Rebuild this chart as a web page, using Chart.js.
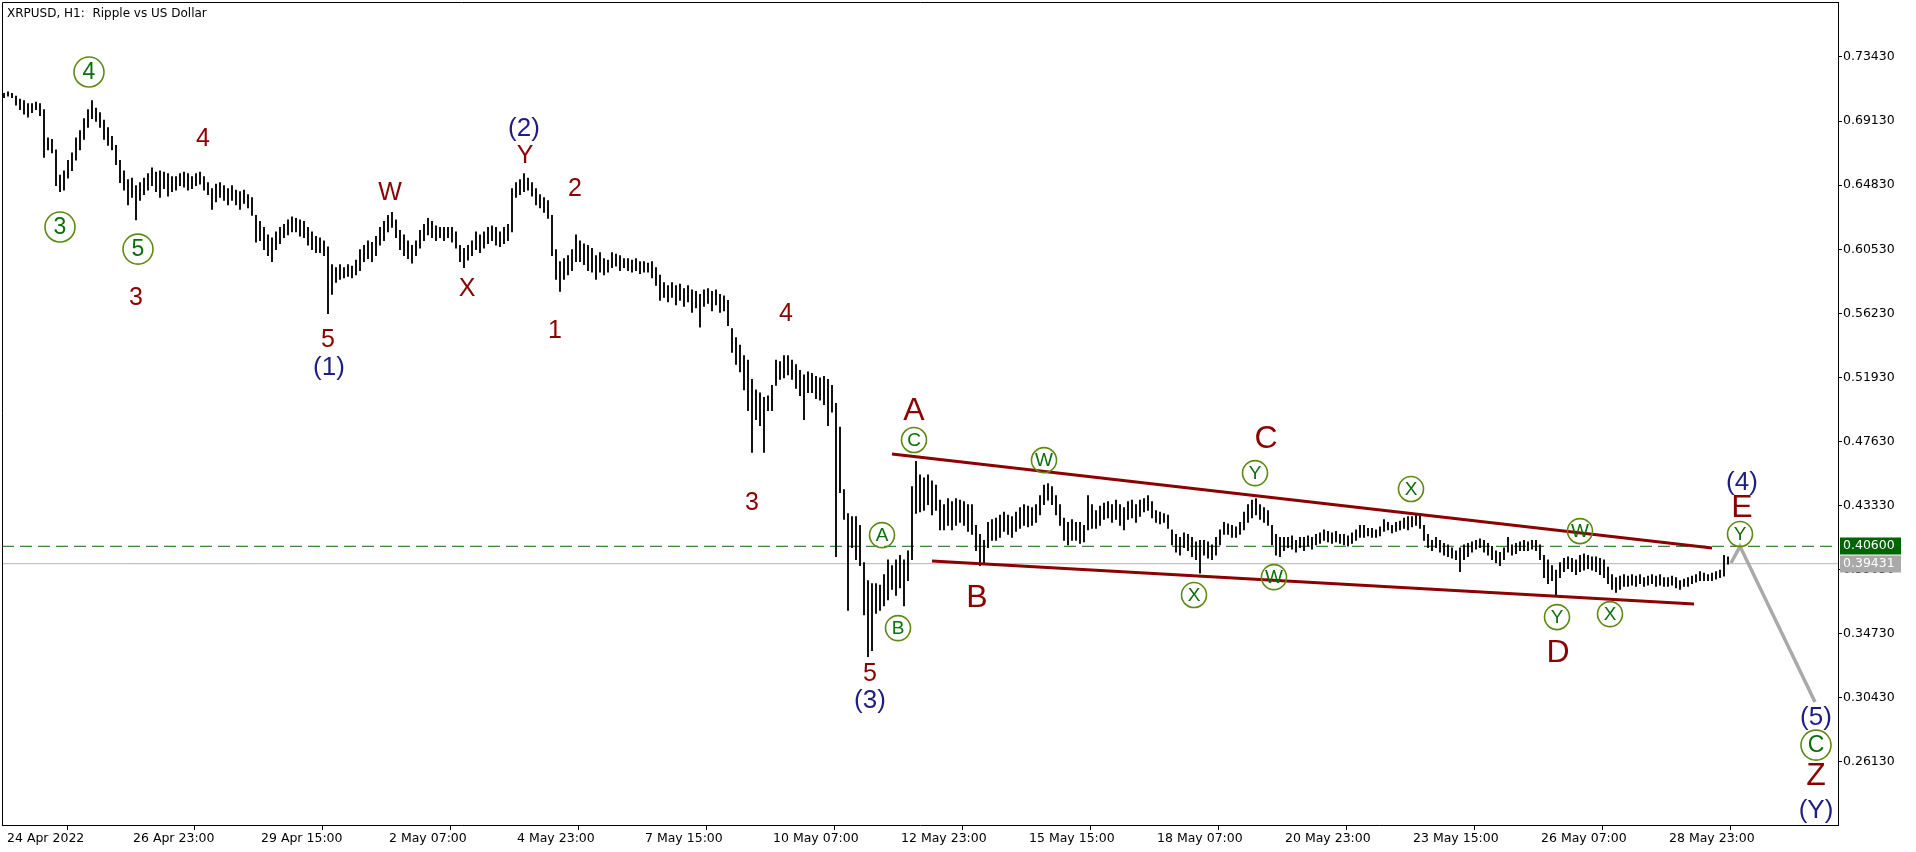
<!DOCTYPE html>
<html>
<head>
<meta charset="utf-8">
<script src="https://cdn.jsdelivr.net/npm/chart.js@4/dist/chart.umd.min.js"></script>
<style>
html,body{margin:0;padding:0;background:#fff;overflow:hidden}
#wrap{position:relative;width:1916px;height:852px}
</style>
</head>
<body>
<div id="wrap"><canvas id="c"></canvas></div>
<script>
// ---------------- DATA ----------------
const TITLE = 'XRPUSD, H1:  Ripple vs US Dollar';
const HOURS_PER_BAR = 2;           // each drawn bar summarises 2 hourly candles
// bar highs, from 24 Apr 2022 08:00, one every 2 hours
const HIGH = [
.710,.711,.710,.708,.706,.705,.703,.703,.704,.703,
.699,.680,.679,.672,.655,.658,.665,.670,.680,.685,
.693,.699,.705,.700,.697,.692,.687,.681,.675,.665,
.658,.652,.653,.648,.650,.653,.656,.660,.657,.658,
.657,.656,.654,.654,.656,.657,.656,.654,.656,.657,
.654,.650,.646,.649,.650,.648,.646,.648,.645,.644,
.645,.642,.640,.628,.624,.620,.615,.613,.617,.620,
.622,.625,.627,.626,.625,.624,.620,.617,.614,.613,
.611,.607,.595,.593,.595,.593,.595,.594,.598,.605,
.608,.611,.610,.614,.620,.624,.628,.630,.625,.618,
.615,.611,.608,.611,.618,.622,.626,.624,.621,.620,
.620,.620,.620,.617,.608,.606,.608,.611,.617,.615,
.617,.620,.621,.620,.617,.620,.622,.646,.650,.652,
.656,.653,.650,.646,.642,.640,.638,.628,.605,.597,
.599,.601,.605,.615,.611,.609,.608,.606,.601,.603,
.599,.598,.603,.602,.601,.599,.599,.598,.599,.597,
.597,.596,.597,.593,.588,.583,.581,.583,.581,.582,
.579,.581,.578,.577,.575,.578,.579,.577,.578,.575,
.574,.571,.552,.546,.541,.534,.531,.518,.511,.509,
.506,.507,.514,.531,.530,.534,.534,.531,.528,.524,
.521,.523,.522,.520,.519,.520,.518,.514,.502,.486,
.444,.428,.426,.426,.420,.395,.383,.381,.381,.380,
.387,.397,.393,.397,.400,.397,.403,.446,.463,.454,
.452,.454,.450,.447,.437,.434,.438,.436,.438,.437,
.436,.434,.434,.420,.414,.410,.422,.424,.425,.427,
.429,.427,.426,.429,.432,.434,.433,.432,.434,.440,
.447,.448,.446,.440,.434,.425,.422,.424,.422,.422,
.420,.440,.434,.430,.433,.435,.436,.434,.437,.434,
.432,.436,.437,.434,.437,.438,.440,.436,.430,.429,
.428,.427,.417,.414,.412,.415,.414,.412,.409,.410,
.410,.409,.407,.412,.417,.422,.421,.420,.419,.422,
.429,.434,.437,.438,.434,.432,.430,.420,.414,.412,
.412,.412,.413,.410,.412,.412,.413,.412,.414,.415,
.417,.416,.415,.416,.414,.414,.413,.415,.417,.420,
.420,.418,.418,.417,.419,.424,.422,.420,.422,.423,
.425,.426,.426,.428,.428,.420,.414,.410,.412,.410,
.408,.407,.405,.403,.405,.407,.408,.409,.410,.411,
.410,.408,.406,.403,.402,.405,.412,.407,.408,.409,
.410,.409,.410,.410,.407,.400,.397,.393,.390,.395,
.398,.399,.398,.397,.400,.401,.400,.399,.399,.398,
.397,.392,.387,.385,.386,.387,.386,.387,.386,.387,
.385,.386,.387,.386,.387,.385,.385,.386,.385,.383,
.384,.385,.386,.387,.389,.388,.387,.388,.389,.390,
.400,.399
];
const LOW = [
.707,.708,.707,.702,.699,.696,.694,.697,.699,.695,
.667,.672,.670,.648,.644,.645,.653,.658,.665,.672,
.679,.687,.693,.691,.687,.679,.675,.672,.662,.650,
.645,.635,.640,.625,.638,.642,.645,.648,.644,.640,
.646,.641,.644,.645,.648,.647,.645,.646,.648,.649,
.645,.642,.632,.637,.640,.638,.635,.638,.635,.632,
.636,.633,.628,.610,.611,.605,.601,.597,.605,.609,
.613,.615,.617,.617,.614,.613,.608,.605,.603,.603,
.601,.562,.575,.583,.585,.586,.587,.586,.588,.591,
.597,.599,.597,.601,.608,.611,.617,.620,.613,.605,
.601,.599,.596,.601,.606,.611,.615,.613,.611,.613,
.611,.613,.610,.606,.597,.593,.598,.601,.605,.603,
.606,.609,.611,.608,.607,.609,.611,.617,.640,.642,
.644,.645,.641,.635,.633,.630,.626,.601,.585,.577,
.585,.588,.591,.597,.597,.595,.591,.590,.585,.590,
.588,.590,.593,.594,.591,.593,.591,.590,.591,.589,
.590,.590,.586,.581,.571,.573,.570,.573,.568,.571,
.567,.570,.563,.566,.553,.567,.569,.564,.568,.563,
.564,.554,.536,.528,.523,.511,.497,.469,.491,.487,
.469,.497,.497,.514,.518,.519,.521,.518,.512,.507,
.491,.509,.509,.505,.504,.501,.487,.496,.399,.442,
.424,.363,.405,.397,.393,.360,.332,.336,.361,.363,
.366,.370,.377,.373,.378,.366,.383,.397,.428,.429,
.430,.434,.427,.430,.417,.417,.420,.417,.420,.422,
.420,.416,.414,.403,.393,.395,.405,.410,.410,.412,
.416,.414,.412,.416,.418,.420,.419,.420,.422,.427,
.434,.437,.434,.427,.420,.410,.407,.410,.410,.408,
.409,.417,.418,.418,.420,.424,.425,.422,.424,.420,
.417,.424,.425,.422,.426,.429,.430,.425,.422,.421,
.422,.418,.407,.402,.400,.405,.403,.399,.397,.388,
.400,.398,.397,.400,.407,.414,.414,.412,.412,.414,
.417,.422,.425,.427,.424,.422,.420,.407,.400,.399,
.403,.405,.404,.402,.405,.403,.406,.404,.407,.408,
.410,.409,.408,.409,.408,.407,.406,.408,.410,.412,
.412,.413,.412,.412,.413,.416,.417,.415,.416,.417,
.418,.417,.419,.420,.418,.410,.405,.403,.405,.402,
.400,.399,.398,.397,.389,.397,.399,.402,.404,.405,
.402,.400,.397,.395,.393,.397,.402,.400,.401,.403,
.403,.403,.404,.403,.397,.385,.381,.383,.373,.385,
.389,.391,.389,.387,.389,.390,.391,.390,.389,.387,
.385,.381,.377,.375,.377,.379,.379,.380,.379,.381,
.379,.380,.381,.379,.380,.379,.379,.380,.378,.377,
.379,.379,.381,.382,.383,.383,.383,.383,.384,.385,
.386,.394
];
const Y_TICKS = [0.7343,0.6913,0.6483,0.6053,0.5623,0.5193,0.4763,0.4333,0.3903,0.3473,0.3043,0.2613];
const X_TICK_HOURS = [0,63,127,191,255,319,383,447,511,575,639,703,767,831];
const X_TICK_LABELS = ['24 Apr 2022','26 Apr 23:00','29 Apr 15:00','2 May 07:00','4 May 23:00','7 May 15:00',
  '10 May 07:00','12 May 23:00','15 May 15:00','18 May 07:00','20 May 23:00','23 May 15:00','26 May 07:00','28 May 23:00'];
const LEVEL_GREEN = 0.40600;
const LEVEL_BID = 0.39431;
const UPPER_LINE = [[444,0.4679],[854,0.4048]];
const LOWER_LINE = [[464,0.3961],[845,0.3672]];
const PROJECTION = [[863.5,0.3948],[868,0.4060],[905.5,0.3015]];
const WAVE_LABELS = [
 {t:'4',h:42.5,p:0.7242,s:'circleL'},{t:'3',h:28,p:0.6202,s:'circleL'},{t:'5',h:67,p:0.6054,s:'circleL'},
 {t:'3',h:66,p:0.5732,s:'red'},{t:'4',h:99.5,p:0.6799,s:'red'},{t:'5',h:162,p:0.5450,s:'red'},
 {t:'(1)',h:162.5,p:0.5262,s:'navy'},{t:'W',h:193,p:0.6437,s:'red'},{t:'X',h:231.5,p:0.5793,s:'red'},
 {t:'(2)',h:260,p:0.6866,s:'navy'},{t:'Y',h:260.5,p:0.6685,s:'red'},{t:'2',h:285.5,p:0.6464,s:'red'},
 {t:'1',h:275.5,p:0.5511,s:'red'},{t:'4',h:391,p:0.5625,s:'red'},{t:'3',h:374,p:0.4357,s:'red'},
 {t:'5',h:433,p:0.3209,s:'red'},{t:'(3)',h:433,p:0.3028,s:'navy'},
 {t:'A',h:439,p:0.4135,s:'circleS'},{t:'B',h:447,p:0.3511,s:'circleS'},{t:'C',h:455,p:0.4773,s:'circleS'},
 {t:'A',h:455,p:0.4974,s:'redBig'},{t:'B',h:486.5,p:0.3719,s:'redBig'},
 {t:'W',h:520,p:0.4638,s:'circleS'},{t:'X',h:595,p:0.3733,s:'circleS'},{t:'Y',h:625.5,p:0.4551,s:'circleS'},
 {t:'C',h:631,p:0.4786,s:'redBig'},{t:'W',h:635,p:0.3853,s:'circleS'},{t:'X',h:703.5,p:0.4444,s:'circleS'},
 {t:'W',h:788,p:0.4162,s:'circleS'},{t:'Y',h:776.5,p:0.3585,s:'circleS'},{t:'D',h:777,p:0.3350,s:'redBig'},
 {t:'X',h:803,p:0.3605,s:'circleS'},{t:'(4)',h:869,p:0.4491,s:'navy'},{t:'E',h:869,p:0.4323,s:'redBig'},
 {t:'Y',h:868,p:0.4142,s:'circleS'},{t:'(5)',h:906,p:0.2914,s:'navy'},{t:'C',h:906,p:0.2726,s:'circleL'},
 {t:'Z',h:906,p:0.2525,s:'redBig'},{t:'(Y)',h:906,p:0.2290,s:'navy'}
];

// ---------------- STYLE ----------------
const X_MIN = -1, X_MAX = 917, Y_MIN = 0.2190, Y_MAX = 0.7712;
const AXIS_FONT = {family:'DejaVu Sans', size:12.5};
const LABEL_STYLES = {
  red:    {font:'25px "Liberation Sans"', color:'#8b0000'},
  redBig: {font:'32px "Liberation Sans"', color:'#8b0000'},
  navy:   {font:'26px "Liberation Sans"', color:'#1e1e82'},
  circleL:{font:'23px "Liberation Sans"', color:'#0a6e0a', r:15},
  circleS:{font:'19px "Liberation Sans"', color:'#0a6e0a', r:12.5}
};

const bars = HIGH.map((h,k)=>({x:k*HOURS_PER_BAR, y:[LOW[k], h]}));
const pts = arr => arr.map(([x,y])=>({x,y}));

const decor = {
  id:'decor',
  beforeDraw(chart){
    const c = chart.ctx; c.save(); c.fillStyle='#fff'; c.fillRect(0,0,chart.width,chart.height); c.restore();
  },
  afterDraw(chart){
    const c = chart.ctx, a = chart.chartArea, xs = chart.scales.x, ys = chart.scales.y;
    c.save();
    c.strokeStyle='#000'; c.lineWidth=1;
    c.beginPath(); c.moveTo(a.left+0.5,a.bottom); c.lineTo(a.left+0.5,a.top+0.5); c.lineTo(a.right,a.top+0.5); c.stroke();
    c.fillStyle='#000'; c.font='12px "DejaVu Sans"'; c.textAlign='left'; c.textBaseline='middle';
    c.fillText(TITLE, 7, 14);
    c.textAlign='center'; c.textBaseline='middle';
    WAVE_LABELS.forEach(l=>{
      const st = LABEL_STYLES[l.s];
      const x = xs.getPixelForValue(l.h), y = ys.getPixelForValue(l.p);
      if (st.r){
        c.beginPath(); c.arc(x,y,st.r,0,Math.PI*2);
        c.lineWidth=1.6; c.strokeStyle='#5d8a12'; c.stroke();
      }
      c.font = st.font; c.fillStyle = st.color;
      c.fillText(l.t, x, y+1);
    });
    [[LEVEL_GREEN,'#006400'],[LEVEL_BID,'#a9a9a9']].forEach(([v,col])=>{
      const y = ys.getPixelForValue(v);
      c.fillStyle=col; c.fillRect(a.right+2, Math.round(y)-8.5, 61, 17);
      c.fillStyle='#fff'; c.font='12.5px "DejaVu Sans"'; c.textAlign='left'; c.textBaseline='middle';
      c.fillText(v.toFixed(5), a.right+5, Math.round(y));
    });
    c.restore();
  }
};

new Chart(document.getElementById('c'), {
  type:'bar',
  data:{datasets:[
    {type:'line', data:pts(UPPER_LINE), borderColor:'#8b0000', borderWidth:3, pointRadius:0, order:1},
    {type:'line', data:pts(LOWER_LINE), borderColor:'#8b0000', borderWidth:3, pointRadius:0, order:1},
    {type:'line', data:pts(PROJECTION), borderColor:'#a9a9a9', borderWidth:3.5, pointRadius:0, order:1},
    {type:'bar', data:bars, backgroundColor:'#000', borderWidth:0, barThickness:1.2, order:2},
    {type:'line', data:[{x:X_MIN,y:LEVEL_GREEN},{x:X_MAX,y:LEVEL_GREEN}], borderColor:'#0a640a', borderWidth:1, borderDash:[12,6], pointRadius:0, order:3},
    {type:'line', data:[{x:X_MIN,y:LEVEL_BID},{x:X_MAX,y:LEVEL_BID}], borderColor:'#b4b4b4', borderWidth:1, pointRadius:0, order:3}
  ]},
  options:{
    responsive:true, maintainAspectRatio:false, animation:false,
    layout:{padding:{left:2,top:2,right:0,bottom:0}},
    plugins:{legend:{display:false}, tooltip:{enabled:false}},
    scales:{
      x:{type:'linear', position:'bottom', min:X_MIN, max:X_MAX, offset:false,
        grid:{display:true, drawOnChartArea:false, drawTicks:true, tickLength:5, color:'#000'},
        border:{display:true, color:'#000', width:1},
        ticks:{autoSkip:false, maxRotation:0, minRotation:0, align:'start', labelOffset:3, padding:1, color:'#000', font:AXIS_FONT,
          callback:(v,i)=>X_TICK_LABELS[i]},
        afterBuildTicks:s=>{ s.ticks = X_TICK_HOURS.map(v=>({value:v})); },
        afterFit:s=>{ s.height = 27; s.paddingLeft = 0; s.paddingRight = 0; }
      },
      y:{type:'linear', position:'right', min:Y_MIN, max:Y_MAX,
        grid:{display:true, drawOnChartArea:false, drawTicks:true, tickLength:4, color:'#000'},
        border:{display:true, color:'#000', width:1},
        ticks:{padding:1, color:'#000', font:AXIS_FONT, callback:v=>Number(v).toFixed(5)},
        afterBuildTicks:s=>{ s.ticks = Y_TICKS.map(v=>({value:v})); },
        afterFit:s=>{ s.width = 78; s.paddingTop = 0; s.paddingBottom = 0; }
      }
    }
  },
  plugins:[decor]
});
</script>
</body>
</html>
